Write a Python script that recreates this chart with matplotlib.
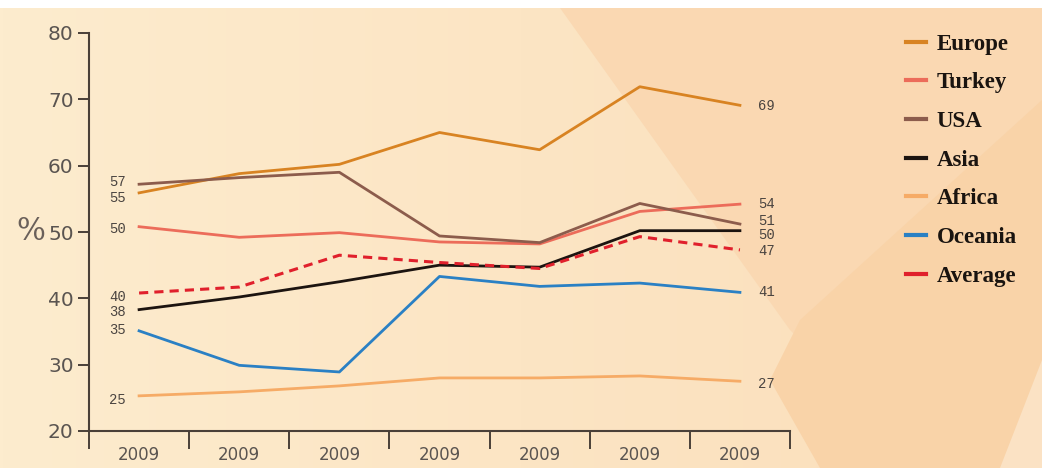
import numpy as np
import matplotlib.pyplot as plt
from matplotlib.patches import Polygon

# data
periods = ["2009", "2009", "2009", "2009", "2009", "2009", "2009"]
europe = [55.9, 58.8, 60.2, 65.0, 62.4, 71.9, 69.1]
turkey = [50.8, 49.2, 49.9, 48.5, 48.2, 53.1, 54.2]
usa = [57.2, 58.2, 59.0, 49.4, 48.4, 54.3, 51.2]
asia = [38.3, 40.2, 42.5, 45.0, 44.7, 50.2, 50.2]
africa = [25.3, 25.9, 26.8, 28.0, 28.0, 28.3, 27.5]
oceania = [35.1, 29.9, 28.9, 43.3, 41.8, 42.3, 40.9]
average = [40.8, 41.7, 46.5, 45.4, 44.5, 49.3, 47.3]

left_labels = ["57", "55", "50", "40", "38", "35", "25"]
right_labels = ["69", "54", "51", "50", "47", "41", "27"]

W, H = 1042, 468
fig = plt.figure(figsize=(W / 100, H / 100), dpi=100)

"""background: cream to peach with a few diagonal shapes"""
bg = fig.add_axes([0, 0, 1, 1])
bg.set_xlim(0, W)
bg.set_ylim(H, 0)
bg.axis('off')
xx = np.linspace(0, 1, 300)
c0 = np.array([253, 236, 206]) / 255
c1 = np.array([251, 222, 186]) / 255
grad = (c0[None, :] * (1 - xx[:, None]) + c1[None, :] * xx[:, None])[None, :, :]
bg.imshow(grad, extent=[0, W, H, 8], aspect='auto', zorder=0)
bg.add_patch(Polygon([[560, 8], [W, 8], [W, 468], [930, 468], [790, 330]],
                     closed=True, color='#fad8b2', zorder=1, lw=0))
bg.add_patch(Polygon([[770, 380], [800, 320], [W, 100], [W, 468], [820, 468]],
                     closed=True, color='#f9d3a8', zorder=1, lw=0))
bg.add_patch(Polygon([[1000, 468], [W, 360], [W, 468]],
                     closed=True, color='#fbe2c4', zorder=1, lw=0))
bg.add_patch(Polygon([[0, 0], [W, 0], [W, 8], [0, 8]],
                     closed=True, color='white', zorder=2, lw=0))

ax = fig.add_axes([89 / W, (H - 431) / H, 701 / W, 398 / H])
ax.patch.set_alpha(0)

x = np.arange(len(periods))
series = [
    ("Europe", europe, '#d88322', '-'),
    ("Turkey", turkey, '#ec6c5a', '-'),
    ("USA", usa, '#8c5c4c', '-'),
    ("Asia", asia, '#1c1410', '-'),
    ("Africa", africa, '#f6ab66', '-'),
    ("Oceania", oceania, '#2a80c4', '-'),
    ("Average", average, '#e0202c', '--'),
]
for name, vals, col, ls in series:
    if ls == '--':
        ax.plot(x, vals, color=col, lw=2.2, ls=(0, (3, 2)), label=name)
    else:
        ax.plot(x, vals, color=col, lw=2.0, label=name)

ax.set_xlim(-0.5, 6.5)
ax.set_ylim(20, 80)
ax.set_yticks([20, 30, 40, 50, 60, 70, 80])
ax.set_xticks(x)
ax.set_xticklabels(periods)
ax.set_xticks(np.arange(-0.5, 7, 1), minor=True)
ax.tick_params(axis='x', which='major', length=0, pad=11, labelsize=12,
               labelcolor='#5a5450')
ax.tick_params(axis='x', which='minor', length=13, width=1.4, color='#4a4038',
               direction='out')
ax.tick_params(axis='y', length=8, width=1.4, color='#4a4038', labelsize=14.5,
               labelcolor='#5a5450', pad=3)
for lab in ax.get_yticklabels():
    lab.set_fontfamily('Liberation Sans Narrow')
for s in ['top', 'right']:
    ax.spines[s].set_visible(False)
for s in ['left', 'bottom']:
    ax.spines[s].set_color('#4a4038')
    ax.spines[s].set_linewidth(1.5)

ax.set_ylabel('%', fontsize=22, family='DejaVu Serif', color='#6a605a',
              rotation=0, labelpad=12, va='center')

"""valeurs en bout de ligne"""
left_y = [57.6, 55.2, 50.4, 40.2, 38.0, 35.2, 24.6]
right_y = [69.0, 54.2, 51.7, 49.5, 47.2, 41.0, 27.1]
for lab, yv in zip(left_labels, left_y):
    ax.text(-0.13, yv, lab, ha='right', va='center', fontsize=10,
            family='Liberation Mono', color='#4a4440')
for lab, yv in zip(right_labels, right_y):
    ax.text(6.18, yv, lab, ha='left', va='center', fontsize=10,
            family='Liberation Mono', color='#4a4440')

leg = fig.legend(loc='upper left', bbox_to_anchor=(885 / W, 1 - 13 / H),
                 frameon=False, handlelength=0.9, handletextpad=0.45,
                 labelspacing=0.77,
                 prop={'family': 'Liberation Serif', 'weight': 'bold', 'size': 16.5})
for t in leg.get_texts():
    t.set_color('#1a1410')
for h in leg.get_lines():
    h.set_linestyle('-')
    h.set_linewidth(3)

fig.savefig('out.png', dpi=100)
